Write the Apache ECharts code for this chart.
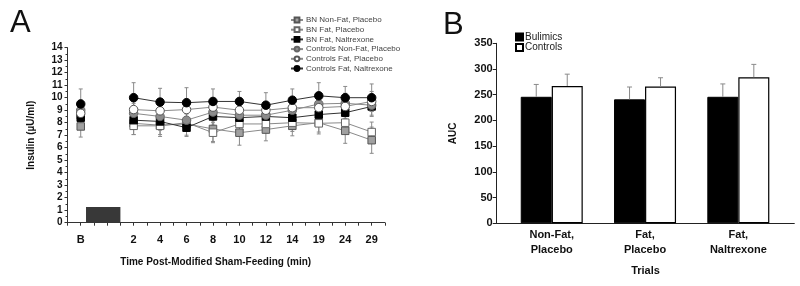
<!DOCTYPE html>
<html>
<head>
<meta charset="utf-8">
<script src="https://cdn.jsdelivr.net/npm/echarts@6/dist/echarts.min.js"></script>
<style>
html,body{margin:0;padding:0;background:#fff;}
#c{width:800px;height:286px;}
</style>
</head>
<body>
<div id="c"></div>
<script>
// ---------- Panel A data ----------
const timeLabels = ['B', '', '2', '4', '6', '8', '10', '12', '14', '19', '24', '29'];
const bnNonFatPlacebo      = [7.7, null, 7.95, 7.8, 7.9, 7.5, 7.2, 7.45, 7.75, 8.0, 7.35, 6.6];
const bnFatPlacebo         = [8.6, null, 7.75, 7.75, 8.0, 7.2, 7.9, 7.9, 8.0, 7.95, 8.0, 7.25];
const bnFatNaltrexone      = [8.4, null, 8.2, 8.1, 7.6, 8.5, 8.4, 8.5, 8.4, 8.65, 8.8, 9.3];
const ctlNonFatPlacebo     = [9.0, null, 8.75, 8.5, 8.2, 8.85, 8.6, 8.6, 9.0, 9.5, 9.55, 9.4];
const ctlFatPlacebo        = [8.75, null, 9.05, 8.95, 9.05, 9.25, 9.0, 9.0, 9.2, 9.2, 9.3, 9.7];
const ctlFatNaltrexone     = [9.5, null, 10.0, 9.65, 9.6, 9.7, 9.7, 9.4, 9.8, 10.15, 10.0, 10.0];
const errBnNonFatPlacebo   = [0.85, null, 0.9, 0.9, 0.9, 1.0, 1.0, 0.9, 0.8, 0.9, 1.0, 1.05];
const errBnFatPlacebo      = [0.8, null, 0.7, 0.7, 0.7, 0.8, 0.7, 0.7, 0.7, 0.7, 0.8, 0.8];
const errBnFatNaltrexone   = [0.8, null, 0.7, 0.7, 0.7, 0.7, 0.7, 0.7, 0.7, 0.7, 0.8, 0.8];
const errCtlNonFatPlacebo  = [0.8, null, 0.8, 0.7, 0.7, 0.7, 0.7, 0.7, 0.7, 0.8, 0.8, 0.8];
const errCtlFatPlacebo     = [0.8, null, 0.8, 0.7, 0.7, 0.7, 0.7, 0.7, 0.7, 0.8, 0.8, 0.8];
const errCtlFatNaltrexone  = [1.2, null, 1.2, 1.1, 1.2, 1.0, 0.8, 1.0, 0.9, 1.05, 0.9, 1.1];
const shamPeriod = [[0.2, 1.5, 1.25]]; // [start position, end position, height]

// ---------- Panel B data ----------
const trialLabels = ['Non-Fat,\nPlacebo', 'Fat,\nPlacebo', 'Fat,\nNaltrexone'];
const aucBulimics = [246, 241, 246];
const aucControls = [267, 266, 284];
const errBulimics = [24, 24, 25];
const errControls = [23, 17, 25];

const FONT = 'Liberation Sans, Arial, sans-serif';

const seriesDefs = [
  {name: 'BN Non-Fat, Placebo', data: bnNonFatPlacebo, err: errBnNonFatPlacebo, symbol: 'rect', size: 7.5, fill: '#a0a0a0', border: '#555', line: '#8a8a8a'},
  {name: 'BN Fat, Placebo', data: bnFatPlacebo, err: errBnFatPlacebo, symbol: 'rect', size: 7.5, fill: '#ffffff', border: '#666', line: '#8a8a8a'},
  {name: 'BN Fat, Naltrexone', data: bnFatNaltrexone, err: errBnFatNaltrexone, symbol: 'rect', size: 7.5, fill: '#000000', border: '#000', line: '#333'},
  {name: 'Controls Non-Fat, Placebo', data: ctlNonFatPlacebo, err: errCtlNonFatPlacebo, symbol: 'circle', size: 8.5, fill: '#8c8c8c', border: '#666', line: '#8a8a8a'},
  {name: 'Controls Fat, Placebo', data: ctlFatPlacebo, err: errCtlFatPlacebo, symbol: 'circle', size: 8.5, fill: '#ffffff', border: '#555', line: '#8a8a8a'},
  {name: 'Controls Fat, Naltrexone', data: ctlFatNaltrexone, err: errCtlFatNaltrexone, symbol: 'circle', size: 8.5, fill: '#000000', border: '#000', line: '#333'}
];

function toPairs(arr) {
  return arr.map((v, i) => [i, v]);
}

// error bar data for panel A
const errA = [];
seriesDefs.forEach(s => {
  s.data.forEach((v, i) => {
    if (v != null) errA.push([i, v, s.err[i]]);
  });
});

const series = [];

series.push({
  type: 'custom',
  name: 'sham',
  xAxisIndex: 0, yAxisIndex: 0,
  data: shamPeriod,
  silent: true,
  z: 1,
  renderItem: function (params, api) {
    const p0 = api.coord([api.value(0), api.value(2)]);
    const p1 = api.coord([api.value(1), 0]);
    return {type: 'rect', shape: {x: p0[0], y: p0[1], width: p1[0] - p0[0], height: p1[1] - p0[1]},
      style: {fill: '#383838'}};
  }
});

series.push({
  type: 'custom',
  name: 'errA',
  xAxisIndex: 0, yAxisIndex: 0,
  data: errA,
  silent: true,
  z: 2,
  renderItem: function (params, api) {
    const x = api.value(0), v = api.value(1), e = api.value(2);
    const top = api.coord([x, v + e]);
    const bot = api.coord([x, v - e]);
    const cw = 2;
    const st = {stroke: '#8a8a8a', lineWidth: 1};
    return {type: 'group', children: [
      {type: 'line', shape: {x1: top[0], y1: top[1], x2: bot[0], y2: bot[1]}, style: st},
      {type: 'line', shape: {x1: top[0] - cw, y1: top[1], x2: top[0] + cw, y2: top[1]}, style: st},
      {type: 'line', shape: {x1: bot[0] - cw, y1: bot[1], x2: bot[0] + cw, y2: bot[1]}, style: st}
    ]};
  }
});

seriesDefs.forEach((s, k) => {
  series.push({
    type: 'line',
    name: s.name,
    xAxisIndex: 0, yAxisIndex: 0,
    data: toPairs(s.data),
    symbol: s.symbol,
    symbolSize: s.size,
    showSymbol: true,
    z: 3 + k,
    lineStyle: {color: s.line, width: 1},
    itemStyle: {color: s.fill, borderColor: s.border, borderWidth: 1},
    animation: false
  });
});

// Panel B bars
series.push({
  type: 'bar',
  name: 'Bulimics',
  xAxisIndex: 1, yAxisIndex: 1,
  data: toPairs(aucBulimics),
  barWidth: 31,
  barGap: '0%',
  itemStyle: {color: '#000', borderColor: '#000', borderWidth: 1}
});
series.push({
  type: 'bar',
  name: 'Controls',
  xAxisIndex: 1, yAxisIndex: 1,
  data: toPairs(aucControls),
  barWidth: 31,
  barGap: '0%',
  itemStyle: {color: '#fff', borderColor: '#000', borderWidth: 1.2}
});

const errB = [];
aucBulimics.forEach((v, i) => errB.push([i, v, errBulimics[i], -1]));
aucControls.forEach((v, i) => errB.push([i, v, errControls[i], 1]));
series.push({
  type: 'custom',
  name: 'errB',
  xAxisIndex: 1, yAxisIndex: 1,
  data: errB,
  silent: true,
  z: 5,
  renderItem: function (params, api) {
    const x = api.value(0), v = api.value(1), e = api.value(2), side = api.value(3);
    const top = api.coord([x, v + e]);
    const base = api.coord([x, v]);
    const dx = side * 15.5;
    const cw = 2.5;
    const st = {stroke: '#8a8a8a', lineWidth: 1};
    return {type: 'group', children: [
      {type: 'line', shape: {x1: top[0] + dx, y1: top[1], x2: base[0] + dx, y2: base[1]}, style: st},
      {type: 'line', shape: {x1: top[0] + dx - cw, y1: top[1], x2: top[0] + dx + cw, y2: top[1]}, style: st}
    ]};
  }
});

const chart = echarts.init(document.getElementById('c'), null, {renderer: 'canvas'});
chart.setOption({
  animation: false,
  backgroundColor: '#fff',
  textStyle: {fontFamily: FONT},
  title: [
    {text: 'A', left: 5, top: 3, textStyle: {fontSize: 31, fontWeight: 'normal', color: '#111', fontFamily: FONT}},
    {text: 'B', left: 438, top: 5, textStyle: {fontSize: 31, fontWeight: 'normal', color: '#111', fontFamily: FONT}}
  ],
  legend: [
    {
      data: seriesDefs.map(s => s.name),
      orient: 'vertical',
      left: 285, top: 11,
      itemWidth: 12, itemHeight: 6, itemGap: 1.7,
      textStyle: {fontSize: 8, color: '#444', lineHeight: 8, fontFamily: FONT, padding: [0, 0, 0, -2]},
      selectedMode: false
    },
    {
      data: ['Bulimics', 'Controls'],
      orient: 'vertical',
      left: 510, top: 27,
      itemWidth: 7, itemHeight: 7, itemGap: 0.5,
      icon: 'rect',
      textStyle: {fontSize: 10, color: '#222', lineHeight: 9, fontFamily: FONT, padding: [0, 0, 0, -3]},
      selectedMode: false
    }
  ],
  grid: [
    {left: 67.5, top: 47.7, width: 317.4, height: 175},
    {left: 496.7, top: 43.3, width: 297.6, height: 180}
  ],
  xAxis: [
    {
      type: 'value', gridIndex: 0,
      min: -0.5, max: 11.5, interval: 0.5,
      splitLine: {show: false},
      axisLine: {onZero: false, lineStyle: {color: '#333', width: 1}},
      axisTick: {show: true, length: 3, lineStyle: {color: '#333'}},
      axisLabel: {
        fontSize: 11, fontWeight: 'bold', color: '#111', margin: 12, fontFamily: FONT,
        showMinLabel: true, showMaxLabel: true,
        formatter: function (v) {
          const r = Math.round(v);
          if (Math.abs(v - r) < 1e-6 && r >= 0 && r < timeLabels.length) return timeLabels[r];
          return '';
        }
      },
      name: 'Time Post-Modified Sham-Feeding (min)',
      nameLocation: 'middle', nameGap: 35,
      nameTextStyle: {fontSize: 10, fontWeight: 'bold', color: '#111', fontFamily: FONT, padding: [0, 21, 0, 0]}
    },
    {
      type: 'value', gridIndex: 1,
      min: -0.59, max: 2.6,
      splitLine: {show: false},
      axisLine: {onZero: false, lineStyle: {color: '#222', width: 1}},
      axisTick: {show: false},
      axisLabel: {
        fontSize: 11, fontWeight: 'bold', color: '#111', margin: 4, lineHeight: 15, fontFamily: FONT,
        showMinLabel: false, showMaxLabel: false,
        formatter: function (v) {
          const r = Math.round(v);
          if (Math.abs(v - r) < 1e-6 && r >= 0 && r < trialLabels.length) return trialLabels[r];
          return '';
        }
      },
      name: 'Trials',
      nameLocation: 'middle', nameGap: 42,
      nameTextStyle: {fontSize: 11, fontWeight: 'bold', color: '#111', fontFamily: FONT}
    }
  ],
  yAxis: [
    {
      type: 'value', gridIndex: 0,
      min: 0, max: 14, interval: 1,
      splitLine: {show: false},
      axisLine: {show: true, onZero: false, lineStyle: {color: '#333', width: 1}},
      axisTick: {show: true, length: 3, lineStyle: {color: '#333'}},
      minorTick: {show: true, splitNumber: 2, length: 2, lineStyle: {color: '#333'}},
      axisLabel: {fontSize: 10, fontWeight: 'bold', color: '#111', margin: 5, fontFamily: FONT},
      name: 'Insulin (µU/ml)',
      nameLocation: 'middle', nameGap: 31,
      nameTextStyle: {fontSize: 10, fontWeight: 'bold', color: '#111', fontFamily: FONT}
    },
    {
      type: 'value', gridIndex: 1,
      min: 0, max: 350, interval: 50,
      splitLine: {show: false},
      axisLine: {show: true, onZero: false, lineStyle: {color: '#222', width: 1}},
      axisTick: {show: true, length: 4, lineStyle: {color: '#222'}},
      axisLabel: {fontSize: 11, fontWeight: 'bold', color: '#111', margin: 4, fontFamily: FONT},
      name: 'AUC',
      nameLocation: 'middle', nameGap: 38,
      nameTextStyle: {fontSize: 10, fontWeight: 'bold', color: '#111', fontFamily: FONT}
    }
  ],
  series: series
});
</script>
</body>
</html>
